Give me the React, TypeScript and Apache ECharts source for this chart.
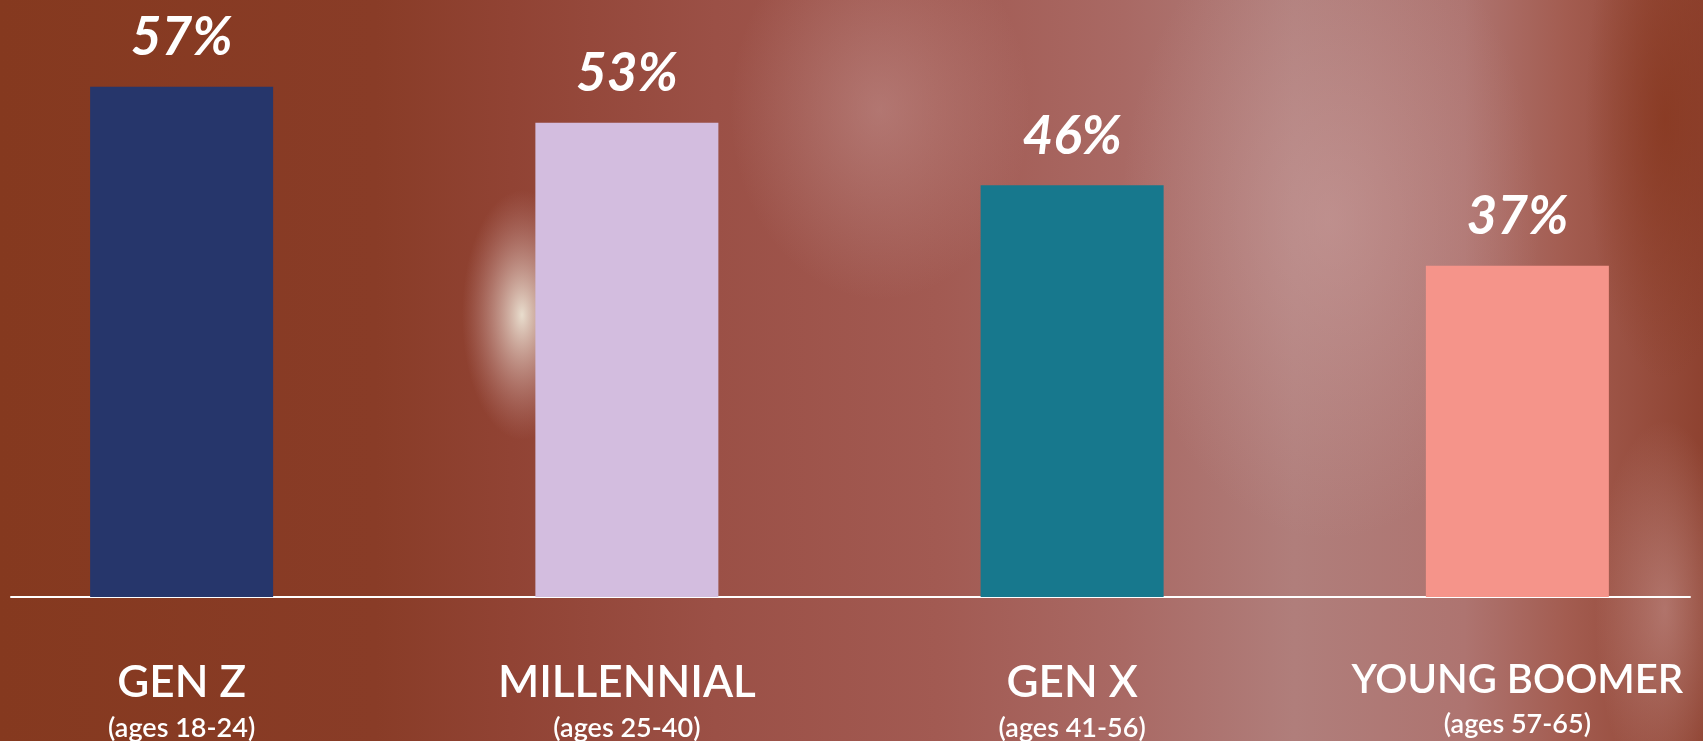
import React, { useEffect, useRef } from "react";
import * as echarts from "echarts";

const categories = ["GEN Z", "MILLENNIAL", "GEN X", "YOUNG BOOMER"];
const ageRanges = ["(ages 18-24)", "(ages 25-40)", "(ages 41-56)", "(ages 57-65)"];
const shares = [57, 53, 46, 37];
const barColors = ["#26366b", "#d3bddf", "#17788d", "#f5948a"];

const W = 1703;
const H = 741;

export default function App() {
  const ref = useRef<HTMLDivElement>(null);
  useEffect(() => {
    if (!ref.current) return;
    const chart = echarts.init(ref.current, null, { renderer: "svg" });
    const blob = (cx: number, cy: number, rx: number, ry: number, stops: any[]) => ({
      type: "ellipse",
      z: -9,
      silent: true,
      shape: { cx, cy, rx, ry },
      style: { fill: new echarts.graphic.RadialGradient(0.5, 0.5, 0.5, stops) },
    });
    const bg: any[] = [
      {
        type: "rect",
        z: -10,
        silent: true,
        shape: { x: 0, y: 0, width: W, height: H },
        style: {
          fill: new echarts.graphic.LinearGradient(0, 0, 1, 0, [
            { offset: 0, color: "#85391f" },
            { offset: 0.22, color: "#893c27" },
            { offset: 0.3, color: "#914334" },
            { offset: 0.42, color: "#9b5046" },
            { offset: 0.55, color: "#a25a52" },
            { offset: 0.66, color: "#a96964" },
            { offset: 0.76, color: "#b07e7b" },
            { offset: 0.86, color: "#ae7470" },
            { offset: 0.92, color: "#a35c50" },
            { offset: 1, color: "#8e4230" },
          ]),
        },
      },
      blob(522, 315, 60, 125, [
        { offset: 0, color: "rgba(242,238,222,0.9)" },
        { offset: 0.5, color: "rgba(222,195,188,0.45)" },
        { offset: 1, color: "rgba(200,150,150,0)" },
      ]),
      blob(880, 110, 150, 190, [
        { offset: 0, color: "rgba(205,165,165,0.4)" },
        { offset: 1, color: "rgba(205,165,165,0)" },
      ]),
      blob(1330, 220, 210, 320, [
        { offset: 0, color: "rgba(212,172,172,0.4)" },
        { offset: 1, color: "rgba(212,172,172,0)" },
      ]),
      blob(1665, 120, 80, 260, [
        { offset: 0, color: "rgba(135,55,30,0.75)" },
        { offset: 1, color: "rgba(135,55,30,0)" },
      ]),
      blob(1665, 610, 70, 190, [
        { offset: 0, color: "rgba(212,168,168,0.45)" },
        { offset: 1, color: "rgba(212,168,168,0)" },
      ]),
    ];

    const capStyle = {
      fontFamily: "Lato",
      fontSize: 44,
      fontWeight: 600,
      color: "#ffffff",
      lineHeight: 52,
      align: "center",
    };

    const option: any = {
      animation: false,
      backgroundColor: "transparent",
      graphic: bg,
      grid: [
        { left: -41, width: 1781, top: 60, bottom: 144, containLabel: false, outerBoundsMode: "none" },
        { left: 11, width: 1679, top: 60, bottom: 144, containLabel: false, outerBoundsMode: "none" },
      ],
      xAxis: [
        {
          type: "category",
          gridIndex: 0,
          data: categories,
          axisLine: { show: false },
          axisTick: { show: false },
          axisLabel: {
            interval: 0,
            margin: 57,
            color: "#ffffff",
            formatter: (v: string, i: number) =>
              `{${v.length > 10 ? "c" : "a"}|${v}}\n{b|${ageRanges[i]}}`,
            rich: {
              a: capStyle,
              c: { ...capStyle, fontSize: 40, lineHeight: 48 },
              b: {
                fontFamily: "Lato",
                fontSize: 27,
                fontWeight: 600,
                color: "#ffffff",
                lineHeight: 40,
                align: "center",
              },
            },
          },
        },
        {
          type: "value",
          gridIndex: 1,
          min: 0,
          max: 1,
          axisLine: { show: true, onZero: false, lineStyle: { color: "#ffffff", width: 2 } },
          axisTick: { show: false },
          axisLabel: { show: false },
          splitLine: { show: false },
        },
      ],
      yAxis: [
        { type: "value", gridIndex: 0, min: 0, max: 60, show: false, splitLine: { show: false } },
        { type: "value", gridIndex: 1, min: 0, max: 1, show: false, splitLine: { show: false } },
      ],
      series: [
        {
          type: "bar",
          xAxisIndex: 0,
          yAxisIndex: 0,
          barWidth: 183,
          data: shares.map((v, i) => ({ value: v, itemStyle: { color: barColors[i] } })),
          label: {
            show: true,
            position: "top",
            distance: 31,
            formatter: "{c}%",
            color: "#ffffff",
            fontFamily: "Lato",
            fontSize: 53,
            lineHeight: 42,
            fontWeight: "bold",
            fontStyle: "italic",
          },
        },
      ],
    };
    chart.setOption(option);
    return () => chart.dispose();
  }, []);
  return <div ref={ref} style={{ position: "fixed", left: 0, top: 0, width: W, height: H }} />;
}
